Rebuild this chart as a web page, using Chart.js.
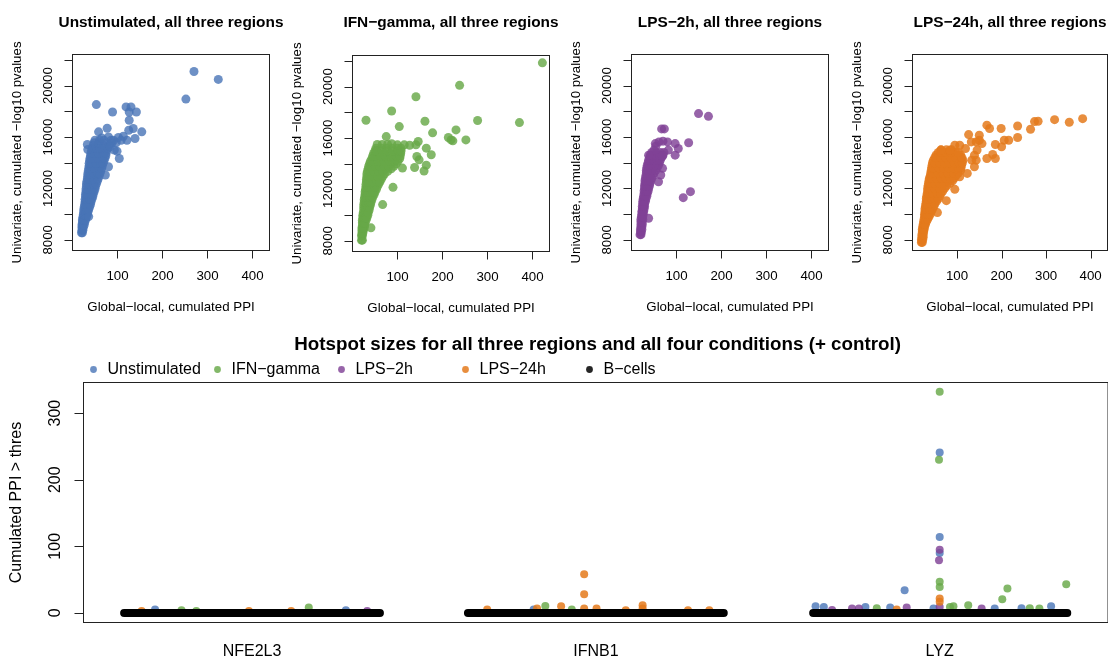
<!DOCTYPE html>
<html>
<head>
<meta charset="utf-8">
<script src="https://cdn.jsdelivr.net/npm/chart.js@4.4.1/dist/chart.umd.min.js"></script>
<style>
  body { margin: 0; background: #fff; overflow: hidden; width: 1108px; height: 659px; position: relative; }
  canvas { position: absolute; left: 0; top: 0; pointer-events: none; }
</style>
</head>
<body>
<canvas id="c1" width="1112" height="659"></canvas>
<canvas id="c2" width="1112" height="659"></canvas>
<canvas id="c3" width="1112" height="659"></canvas>
<canvas id="c4" width="1112" height="659"></canvas>
<canvas id="c5" width="1112" height="659"></canvas>
<script>
// ---- top scatter panels: [global-local cumulated PPI, univariate cumulated -log10 p] ----
var unstimPts = [
  [20,8550],[22,8550],[21,8950],[24,8950],[22,9350],[27,9350],
  [23,9750],[27,9750],[31,9750],[25,10150],[30,10150],[34,10150],
  [26,10550],[32,10550],[38,10550],[28,10950],[34,10950],[41,10950],
  [29,11350],[37,11350],[45,11350],[30,11750],[39,11750],[48,11750],
  [31,12150],[41,12150],[51,12150],[32,12550],[43,12550],[55,12550],
  [34,12950],[42,12950],[50,12950],[59,12950],[35,13350],[44,13350],[54,13350],[63,13350],
  [37,13750],[47,13750],[57,13750],[66,13750],[38,14150],[49,14150],[60,14150],[70,14150],
  [40,14550],[51,14550],[63,14550],[74,14550],[42,14950],[53,14950],[65,14950],[76,14950],
  [46,15350],[57,15350],[69,15350],[81,15350],
  [21,8750],[23,8750],[21,9150],[23,9150],[26,9150],[22,9550],[25,9550],[29,9550],
  [24,9950],[27,9950],[30,9950],[33,9950],[25,10350],[28,10350],[33,10350],[36,10350],
  [27,10750],[30,10750],[36,10750],[40,10750],[28,11150],[32,11150],[39,11150],[43,11150],
  [29,11550],[34,11550],[42,11550],[46,11550],[30,11950],[35,11950],[44,11950],[50,11950],
  [31,12350],[37,12350],[47,12350],[53,12350],[33,12750],[38,12750],[48,12750],[57,12750],
  [34,13150],[39,13150],[48,13150],[57,13150],[61,13150],[36,13550],[41,13550],[50,13550],[60,13550],[65,13550],
  [37,13950],[43,13950],[53,13950],[63,13950],[68,13950],[39,14350],[45,14350],[56,14350],[67,14350],[72,14350],
  [41,14750],[47,14750],[58,14750],[70,14750],[75,14750],[44,15150],[50,15150],[61,15150],[72,15150],[79,15150],
  [48,15550],[58,15550],[75,15550],[88,15550],[97,15550],[50,15750],[60,15750],[70,15750],[86,15750],
  [33,15420],[34,15030],[58,16400],[77,16680],[53,18520],[89,17950],[119,18340],[130,18340],
  [126,17950],[142,17950],[126,17300],[135,16660],[125,16530],[154,16400],[139,15880],[121,15750],
  [113,16060],[104,14330],[99,14900],[80,13690],[73,13040],[36,9810],[65,15930],[80,16010],
  [91,15750],[102,15960],[108,15750],[84,15240],[93,14980],[270,21100],[324,20480],[252,18950]
];
var ifngPts = [
  [20,8050],[22,8050],[20,8400],[22,8400],[21,8800],[24,8800],[22,9200],[27,9200],
  [22,9600],[26,9600],[30,9600],[23,10000],[28,10000],[34,10000],
  [25,10400],[31,10400],[37,10400],[25,10800],[32,10800],[40,10800],
  [26,11200],[34,11200],[43,11200],[28,11600],[35,11600],[42,11600],[48,11600],
  [29,12000],[37,12000],[45,12000],[53,12000],[30,12400],[39,12400],[48,12400],[58,12400],
  [31,12800],[42,12800],[53,12800],[64,12800],[32,13200],[42,13200],[52,13200],[62,13200],[71,13200],
  [35,13600],[45,13600],[55,13600],[65,13600],[75,13600],[86,13600],
  [38,14000],[50,14000],[62,14000],[74,14000],[86,14000],[97,14000],
  [43,14400],[55,14400],[67,14400],[79,14400],[92,14400],[105,14400],
  [47,14800],[59,14800],[71,14800],[83,14800],[95,14800],[107,14800],
  [52,15200],[64,15200],[76,15200],[88,15200],[100,15200],[108,15200],
  [55,15500],[66,15500],[78,15500],
  [21,8600],[23,8600],[21,9000],[23,9000],[26,9000],[22,9400],[25,9400],[28,9400],
  [23,9800],[26,9800],[29,9800],[32,9800],[24,10200],[28,10200],[32,10200],[35,10200],
  [25,10600],[29,10600],[35,10600],[38,10600],[26,11000],[30,11000],[36,11000],[41,11000],
  [27,11400],[31,11400],[39,11400],[45,11400],[28,11800],[33,11800],[40,11800],[46,11800],[50,11800],
  [30,12200],[35,12200],[43,12200],[50,12200],[55,12200],[31,12600],[36,12600],[45,12600],[55,12600],[61,12600],
  [32,13000],[37,13000],[47,13000],[57,13000],[67,13000],[33,13400],[39,13400],[48,13400],[58,13400],[68,13400],[78,13400],
  [36,13800],[41,13800],[51,13800],[61,13800],[71,13800],[81,13800],[92,13800],
  [40,14200],[46,14200],[58,14200],[70,14200],[82,14200],[94,14200],[101,14200],
  [45,14600],[50,14600],[62,14600],[74,14600],[86,14600],[98,14600],[106,14600],
  [50,15000],[54,15000],[66,15000],[78,15000],[90,15000],[102,15000],[108,15000],
  [30,17380],[87,18100],[141,19210],[238,20100],[104,16890],[161,17300],[178,16400],[75,16110],
  [164,15210],[175,14700],[143,14560],[148,14300],[138,13710],[164,13890],[159,13430],[111,13660],
  [90,12160],[67,10820],[41,9010],[146,15730],[141,15470],[127,15440],[115,15470],[100,15470],
  [87,15550],[213,16040],[219,15850],[223,15780],[230,16630],[252,15850],[422,21850],[278,17360],[371,17200]
];
var lps2Pts = [
  [19,8400],[21,8400],[20,8800],[23,8800],[21,9200],[24,9200],[21,9600],[25,9600],
  [23,10000],[26,10000],[24,10400],[28,10400],[25,10800],[29,10800],
  [26,11200],[29,11200],[32,11200],[28,11600],[32,11600],[35,11600],
  [29,12000],[33,12000],[38,12000],[30,12400],[35,12400],[41,12400],
  [31,12800],[38,12800],[45,12800],[33,13200],[41,13200],[50,13200],
  [34,13600],[42,13600],[50,13600],[57,13600],[37,14000],[46,14000],[54,14000],[62,14000],
  [40,14400],[49,14400],[57,14400],[66,14400],[45,14800],[55,14800],[64,14800],[72,14800],
  [20,8600],[22,8600],[21,9000],[23,9000],[21,9400],[24,9400],[22,9800],[25,9800],
  [23,10200],[25,10200],[27,10200],[24,10600],[27,10600],[29,10600],[25,11000],[28,11000],[31,11000],
  [27,11400],[30,11400],[34,11400],[28,11800],[31,11800],[34,11800],[37,11800],
  [29,12200],[32,12200],[36,12200],[40,12200],[30,12600],[34,12600],[39,12600],[43,12600],
  [32,13000],[36,13000],[42,13000],[48,13000],[33,13400],[37,13400],[45,13400],[54,13400],
  [35,13800],[38,13800],[46,13800],[54,13800],[60,13800],[38,14200],[42,14200],[50,14200],[58,14200],[64,14200],
  [42,14600],[46,14600],[55,14600],[63,14600],[70,14600],
  [149,17820],[171,17610],[67,16630],[73,16630],[53,15490],[61,15620],[70,15680],[80,15620],
  [97,15490],[127,15550],[104,15110],[97,14590],[82,14980],[69,14510],[54,15290],[50,14980],
  [38,14590],[131,11750],[115,11280],[38,9680],[69,13560],[65,13040],[60,12520]
];
var lps24Pts = [
  [20,7800],[22,7800],[21,8200],[24,8200],[22,8600],[25,8600],[23,9000],[27,9000],
  [25,9400],[28,9400],[31,9400],[27,9800],[32,9800],[37,9800],[28,10200],[35,10200],[42,10200],
  [29,10600],[36,10600],[42,10600],[48,10600],[31,11000],[39,11000],[46,11000],[54,11000],
  [32,11400],[41,11400],[51,11400],[61,11400],[34,11800],[45,11800],[56,11800],[68,11800],
  [35,12200],[45,12200],[56,12200],[66,12200],[77,12200],
  [37,12600],[48,12600],[59,12600],[70,12600],[80,12600],[90,12600],
  [40,13000],[52,13000],[63,13000],[75,13000],[86,13000],[98,13000],
  [42,13400],[53,13400],[64,13400],[75,13400],[86,13400],[97,13400],[108,13400],
  [44,13800],[55,13800],[66,13800],[77,13800],[88,13800],[99,13800],[110,13800],
  [47,14200],[58,14200],[69,14200],[80,14200],[91,14200],[102,14200],[113,14200],
  [53,14600],[64,14600],[75,14600],[86,14600],[97,14600],[108,14600],
  [64,15000],[76,15000],[88,15000],
  [20,8000],[23,8000],[21,8400],[24,8400],[22,8800],[24,8800],[26,8800],[24,9200],[26,9200],[29,9200],
  [26,9600],[29,9600],[34,9600],[27,10000],[30,10000],[35,10000],[40,10000],
  [28,10400],[32,10400],[39,10400],[45,10400],[30,10800],[33,10800],[41,10800],[50,10800],
  [31,11200],[35,11200],[43,11200],[50,11200],[58,11200],[33,11600],[37,11600],[46,11600],[56,11600],[64,11600],
  [34,12000],[40,12000],[50,12000],[61,12000],[72,12000],[36,12400],[40,12400],[50,12400],[61,12400],[72,12400],[84,12400],
  [38,12800],[43,12800],[54,12800],[65,12800],[75,12800],[85,12800],[94,12800],
  [41,13200],[46,13200],[58,13200],[69,13200],[80,13200],[92,13200],[103,13200],
  [43,13600],[48,13600],[59,13600],[70,13600],[81,13600],[92,13600],[103,13600],[109,13600],
  [45,14000],[50,14000],[61,14000],[72,14000],[83,14000],[94,14000],[105,14000],[112,14000],
  [50,14400],[53,14400],[64,14400],[75,14400],[86,14400],[97,14400],[108,14400],[111,14400],
  [58,14800],[64,14800],[75,14800],[86,14800],[97,14800],[103,14800],
  [382,17430],[352,17150],[319,17350],[282,17230],[274,17200],[265,16600],[236,16860],[236,15960],
  [199,16660],[216,15750],[206,15750],[200,15240],[186,15420],[180,14640],[186,14330],[167,14330],
  [173,16660],[167,16920],[150,16140],[150,15750],[156,15490],[143,15620],[132,15620],[126,16190],
  [145,14980],[139,14590],[133,14200],[143,14200],[119,15110],[106,15360],[95,15360],[84,14980],
  [64,14980],[123,13170],[139,13690],[95,11930],[76,11050],[56,10120],[106,12910]
];
var topXTicks = [100, 200, 300, 400];
var topYTicks = [8000, 10000, 12000, 14000, 16000, 18000, 20000, 22000];
var topYLabels = [8000, 12000, 16000, 20000];
var topTitles = ['Unstimulated, all three regions', 'IFN\u2212gamma, all three regions',
                 'LPS\u22122h, all three regions', 'LPS\u221224h, all three regions'];
var topXTitle = 'Global\u2212local, cumulated PPI';
var topYTitle = 'Univariate, cumulated \u2212log10 pvalues';

// ---- bottom panel: hotspot sizes per position (x = gene index + position offset) ----
var geneNames = ['NFE2L3', 'IFNB1', 'LYZ'];
var conditions = ['Unstimulated', 'IFN\u2212gamma', 'LPS\u22122h', 'LPS\u221224h', 'B\u2212cells'];
var hotUnstim = [[0.718,5],[1.273,4],[1.819,5],[3.0,241],[3.0,114],[3.0,90],[2.898,34],[2.639,10],
  [2.663,9],[2.784,9],[3.324,10],[2.856,8],[3.16,6.6],[3.238,7],[2.982,6.6]];
var hotIfng = [[1.165,8],[0.795,4],[0.838,3],[1.853,10.5],[1.93,5],[3.0,332],[2.998,230],[3.0,46.6],
  [3.0,39],[3.197,36.7],[3.182,20.6],[3.368,43.2],[3.083,11.6],[3.04,10],[3.03,9],[2.817,7],[3.262,7],[3.29,6.6]];
var hotLps2 = [[1.335,3],[3.0,95],[2.998,79],[2.904,8],[3.122,6.6],[2.745,6.6],[2.765,6.6],[2.687,4.5],[3.0,9]];
var hotLps24 = [[0.679,3],[0.991,3],[1.114,3],[1.966,58],[1.966,28],[1.899,10],[2.136,11.6],[2.136,6.6],
  [1.829,6.6],[2.002,6.6],[1.966,6.6],[1.684,5],[2.268,4],[2.33,4],[2.087,4],[3.0,21.6],[3.0,16.6],[2.875,5]];
var bcellSpans = [[0.628,1.372],[1.628,2.372],[2.632,3.371]];  // all ~0 across each region
var hotYTicks = [0, 100, 200, 300];
var hotTitle = 'Hotspot sizes for all three regions and all four conditions (+ control)';
var hotYTitle = 'Cumulated PPI > thres';

var W = 1112, H = 659;
var FONT = '"Liberation Sans", Arial, Helvetica, sans-serif';
var colors = ['rgba(72,116,182,0.8)', 'rgba(104,168,72,0.82)', 'rgba(128,66,150,0.82)',
              'rgba(228,122,28,0.85)', 'rgba(0,0,0,0.85)'];

function toXY(arr) {
  return arr.map(function (d) { return { x: d[0], y: d[1] }; });
}

function rotText(ctx, s, x, y) {
  ctx.save();
  ctx.translate(x, y);
  ctx.rotate(-Math.PI / 2);
  ctx.fillText(s, 0, 0);
  ctx.restore();
}

function topAxes(title) {
  return {
    id: 'topAxes',
    afterDraw: function (chart) {
      var ctx = chart.ctx, a = chart.chartArea, sx = chart.scales.x, sy = chart.scales.y;
      var cx = (a.left + a.right) / 2, cy = (a.top + a.bottom) / 2;
      ctx.save();
      ctx.strokeStyle = '#222';
      ctx.lineWidth = 1;
      ctx.strokeRect(a.left, a.top, a.right - a.left, a.bottom - a.top);
      ctx.beginPath();
      topXTicks.forEach(function (v) {
        var px = Math.round(sx.getPixelForValue(v)) + 0.5;
        ctx.moveTo(px, a.bottom); ctx.lineTo(px, a.bottom + 8);
      });
      topYTicks.forEach(function (v) {
        var py = Math.round(sy.getPixelForValue(v)) + 0.5;
        ctx.moveTo(a.left - 8, py); ctx.lineTo(a.left, py);
      });
      ctx.stroke();
      ctx.fillStyle = '#000';
      ctx.textAlign = 'center';
      ctx.textBaseline = 'middle';
      ctx.font = '13.3px ' + FONT;
      topXTicks.forEach(function (v) { ctx.fillText(String(v), sx.getPixelForValue(v), a.bottom + 25.5); });
      topYLabels.forEach(function (v) { rotText(ctx, String(v), a.left - 24, sy.getPixelForValue(v)); });
      ctx.fillText(topXTitle, cx, a.bottom + 56.5);
      rotText(ctx, topYTitle, a.left - 55, cy);
      ctx.font = 'bold 15.4px ' + FONT;
      ctx.fillText(title, cx, 22.5);
      ctx.restore();
    }
  };
}

var panels = [
  { id: 'c1', pts: unstimPts, box: [72.5, 54.5, 269.5, 250.5] },
  { id: 'c2', pts: ifngPts, box: [352.5, 55.5, 549.5, 251.5] },
  { id: 'c3', pts: lps2Pts, box: [631.5, 54.5, 828.5, 250.5] },
  { id: 'c4', pts: lps24Pts, box: [912.5, 54.5, 1109.5, 250.5] }
];

panels.forEach(function (p, i) {
  var b = p.box;
  new Chart(document.getElementById(p.id), {
    type: 'scatter',
    data: {
      datasets: [{
        data: toXY(p.pts),
        backgroundColor: colors[i],
        borderWidth: 0,
        pointRadius: 4.5,
        pointHoverRadius: 4.5
      }]
    },
    options: {
      responsive: false,
      animation: false,
      devicePixelRatio: 1,
      events: [],
      layout: { padding: { left: b[0], top: b[1], right: W - b[2], bottom: H - b[3] } },
      scales: {
        x: { type: 'linear', display: false, min: 0, max: 437.8 },
        y: { type: 'linear', display: false, min: 7170, max: 22420 }
      },
      plugins: { legend: { display: false }, tooltip: { enabled: false } }
    },
    plugins: [topAxes(topTitles[i])]
  });
});

// bottom panel
var hotAxes = {
  id: 'hotAxes',
  afterDraw: function (chart) {
    var ctx = chart.ctx, a = chart.chartArea, sx = chart.scales.x, sy = chart.scales.y;
    ctx.save();
    ctx.strokeStyle = '#222';
    ctx.lineWidth = 1;
    ctx.strokeRect(a.left, a.top, a.right - a.left, a.bottom - a.top);
    ctx.beginPath();
    hotYTicks.forEach(function (v) {
      var py = Math.round(sy.getPixelForValue(v)) + 0.5;
      ctx.moveTo(a.left - 9, py); ctx.lineTo(a.left, py);
    });
    ctx.stroke();
    ctx.fillStyle = '#000';
    ctx.textAlign = 'center';
    ctx.textBaseline = 'middle';
    ctx.font = '16px ' + FONT;
    hotYTicks.forEach(function (v) { rotText(ctx, String(v), a.left - 28, sy.getPixelForValue(v)); });
    geneNames.forEach(function (g, i) { ctx.fillText(g, sx.getPixelForValue(i + 1), a.bottom + 29.5); });
    rotText(ctx, hotYTitle, a.left - 67, (a.top + a.bottom) / 2);
    // legend row
    ctx.textAlign = 'left';
    conditions.forEach(function (c, i) {
      var lx = 93.5 + i * 124;
      ctx.fillStyle = colors[i];
      ctx.beginPath();
      ctx.arc(lx, 369.5, 3.4, 0, Math.PI * 2);
      ctx.fill();
      ctx.fillStyle = '#000';
      ctx.fillText(c, lx + 14, 369.5);
    });
    ctx.textAlign = 'center';
    ctx.font = 'bold 18.8px ' + FONT;
    ctx.fillText(hotTitle, 597.6, 344.8);
    ctx.restore();
  }
};

var bcellData = [];
bcellSpans.forEach(function (s) {
  bcellData.push({ x: s[0], y: 0 }, { x: s[1], y: 0 }, { x: s[1] + 0.05, y: null });
});

var hotSets = [hotUnstim, hotIfng, hotLps2, hotLps24];
var datasets = hotSets.map(function (arr, i) {
  return {
    label: conditions[i],
    data: toXY(arr),
    backgroundColor: colors[i],
    borderWidth: 0,
    pointRadius: 4,
    pointHoverRadius: 4,
    order: 4 - i
  };
});
datasets.push({
  label: conditions[4],
  data: bcellData,
  showLine: true,
  spanGaps: false,
  borderColor: '#000',
  borderWidth: 8,
  borderCapStyle: 'round',
  pointRadius: 0,
  order: 0
});

new Chart(document.getElementById('c5'), {
  type: 'scatter',
  data: { datasets: datasets },
  options: {
    responsive: false,
    animation: false,
    devicePixelRatio: 1,
    events: [],
    layout: { padding: { left: 83.5, top: 382.5, right: 0, bottom: H - 622.5 } },
    scales: {
      x: { type: 'linear', display: false, min: 0.5099, max: 3.4895 },
      y: { type: 'linear', display: false, min: -14.4, max: 345.9 }
    },
    plugins: { legend: { display: false }, tooltip: { enabled: false } }
  },
  plugins: [hotAxes]
});
</script>
</body>
</html>
